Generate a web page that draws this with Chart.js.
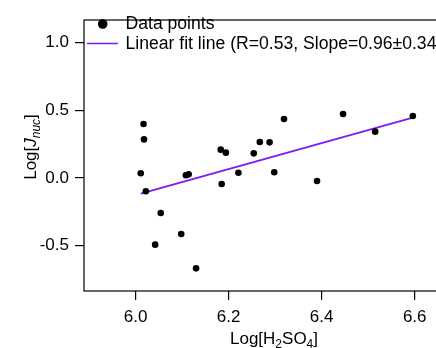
<!DOCTYPE html>
<html>
<head>
<meta charset="utf-8">
<script src="https://cdn.jsdelivr.net/npm/chart.js@4/dist/chart.umd.min.js"></script>
<style>
html,body{margin:0;padding:0;overflow:hidden;background:#fff;width:436px;height:348px;}
canvas{display:block;}
</style>
</head>
<body>
<canvas id="c" width="470" height="348"></canvas>
<script>
const h2so4 = [6.017,6.018,6.011,6.022,6.054,6.042,6.098,6.130,6.108,6.114,6.183,6.194,6.185,6.221,6.254,6.267,6.288,6.298,6.319,6.446,6.515,6.596,6.390];
const jnuc  = [0.398,0.285,0.035,-0.098,-0.258,-0.492,-0.413,-0.667,0.020,0.027,0.209,0.187,-0.044,0.039,0.182,0.266,0.263,0.042,0.435,0.472,0.342,0.458,-0.022];
const fitX = [6.011, 6.596];
const fitY = [-0.116, 0.445];
const xTicks = [6.0, 6.2, 6.4, 6.6];
const yTicks = [-0.5, 0.0, 0.5, 1.0];
const legendLabels = ['Data points', 'Linear fit line (R=0.53, Slope=0.96\u00b10.34)'];
const FIT_COLOR = '#7b1cf5';
const FONT = '"Liberation Sans", Arial, Helvetica, sans-serif';

const decor = {
  id: 'decor',
  afterDraw(chart) {
    const ctx = chart.ctx, a = chart.chartArea;
    ctx.save();
    // frame
    ctx.strokeStyle = '#000'; ctx.lineWidth = 1.2;
    ctx.strokeRect(a.left, a.top, a.right - a.left, a.bottom - a.top);
    // legend
    ctx.fillStyle = '#000';
    ctx.beginPath(); ctx.arc(102.7, 24, 4.8, 0, Math.PI * 2); ctx.fill();
    ctx.strokeStyle = FIT_COLOR; ctx.lineWidth = 1.5;
    ctx.beginPath(); ctx.moveTo(87, 43.5); ctx.lineTo(118, 43.5); ctx.stroke();
    ctx.font = '17.6px ' + FONT; ctx.textBaseline = 'middle'; ctx.textAlign = 'left';
    ctx.fillText(legendLabels[0], 125.5, 24.5);
    ctx.fillText(legendLabels[1], 125.5, 44);
    // x title
    const parts = [['Log[H',17,0],['2',12,4],['SO',17,0],['4',12,4],[']',17,0]];
    let w = 0;
    parts.forEach(p => { ctx.font = p[1] + 'px ' + FONT; w += ctx.measureText(p[0]).width; });
    let x = 274 - w / 2;
    ctx.textBaseline = 'alphabetic';
    parts.forEach(p => { ctx.font = p[1] + 'px ' + FONT; ctx.fillText(p[0], x, 344 + p[2]); x += ctx.measureText(p[0]).width; });
    // y title
    ctx.translate(35.5, 147); ctx.rotate(-Math.PI / 2);
    const yp = [['Log[',17,0,''],['J',17,0,'italic '],['nuc',12,4,'italic '],[']',17,0,'']];
    w = 0;
    yp.forEach(p => { ctx.font = p[3] + p[1] + 'px ' + FONT; w += ctx.measureText(p[0]).width; });
    x = -w / 2;
    yp.forEach(p => { ctx.font = p[3] + p[1] + 'px ' + FONT; ctx.fillText(p[0], x, p[2]); x += ctx.measureText(p[0]).width; });
    ctx.restore();
  }
};

new Chart(document.getElementById('c'), {
  type: 'scatter',
  data: {
    datasets: [
      {
        label: legendLabels[0],
        data: h2so4.map((v, i) => ({x: v, y: jnuc[i]})),
        backgroundColor: '#000', borderColor: '#000',
        pointRadius: 3.3, pointBorderWidth: 0, order: 1
      },
      {
        type: 'line',
        label: legendLabels[1],
        data: fitX.map((v, i) => ({x: v, y: fitY[i]})),
        borderColor: FIT_COLOR, borderWidth: 1.8, pointRadius: 0, showLine: true, fill: false, order: 2
      }
    ]
  },
  options: {
    responsive: false, animation: false, devicePixelRatio: 1,
    layout: {padding: {left: 0, right: 6, top: 20, bottom: 0}},
    plugins: {legend: {display: false}, tooltip: {enabled: false}},
    scales: {
      x: {
        type: 'linear', min: 5.889, max: 6.706,
        afterBuildTicks: s => { s.ticks = xTicks.map(v => ({value: v})); },
        afterFit: s => { s.height = 57; },
        grid: {display: true, drawOnChartArea: false, drawTicks: true, tickLength: 9, color: '#000', lineWidth: 1.2},
        border: {display: false},
        ticks: {color: '#000', font: {family: FONT, size: 17}, padding: 7, maxRotation: 0, callback: v => v.toFixed(1)}
      },
      y: {
        type: 'linear', min: -0.834, max: 1.166,
        afterBuildTicks: s => { s.ticks = yTicks.map(v => ({value: v})); },
        afterFit: s => { s.width = 84; },
        grid: {display: true, drawOnChartArea: false, drawTicks: true, tickLength: 9, color: '#000', lineWidth: 1.2},
        border: {display: false},
        ticks: {color: '#000', font: {family: FONT, size: 17}, padding: 6, callback: v => v.toFixed(1)}
      }
    }
  },
  plugins: [decor]
});
</script>
</body>
</html>
